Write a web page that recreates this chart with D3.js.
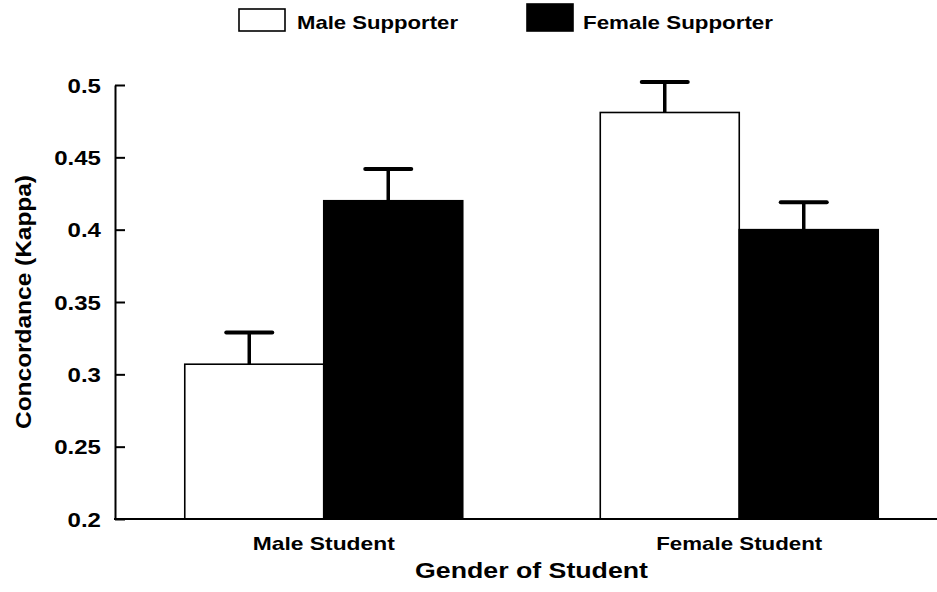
<!DOCTYPE html>
<html>
<head>
<meta charset="utf-8">
<script src="https://cdn.jsdelivr.net/npm/d3@7"></script>
<style>
  html, body { margin: 0; padding: 0; background: #fff; }
  svg text { font-family: "Liberation Sans", Arial, Helvetica, sans-serif; font-weight: bold; fill: #000; }
</style>
</head>
<body>
<svg id="chart" width="937" height="592"></svg>
<script>
// ---- data ----
const categories = ["Male Student", "Female Student"];
const seriesNames = ["Male Supporter", "Female Supporter"];
const maleSupporter = [0.307, 0.481];
const femaleSupporter = [0.420, 0.400];
const maleSupporterErr = [0.022, 0.021];
const femaleSupporterErr = [0.022, 0.019];
const yTicks = [0.2, 0.25, 0.3, 0.35, 0.4, 0.45, 0.5];
const yTickLabels = ["0.2", "0.25", "0.3", "0.35", "0.4", "0.45", "0.5"];
const xTitle = "Gender of Student";
const yTitle = "Concordance (Kappa)";

const seriesValues = [maleSupporter, femaleSupporter];
const seriesErrs = [maleSupporterErr, femaleSupporterErr];
const seriesFill = ["#ffffff", "#000000"];

const svg = d3.select("#chart");

const y = d3.scaleLinear().domain([0.2, 0.5]).range([519, 85]);
const x0 = d3.scaleBand().domain(categories).range([116, 947])
  .paddingInner(0.331).paddingOuter(0.1655);
const x1 = d3.scaleBand().domain(seriesNames).range([0, x0.bandwidth()]).padding(0);

const axisX = 115;

// bars
const data = [];
categories.forEach((c, i) => {
  seriesNames.forEach((s, j) => {
    data.push({cat: c, series: s, j: j, value: seriesValues[j][i], err: seriesErrs[j][i]});
  });
});

const barG = svg.append("g");
barG.selectAll("rect.bar").data(data).enter().append("rect")
  .attr("class", "bar")
  .attr("x", d => x0(d.cat) + x1(d.series))
  .attr("y", d => y(d.value))
  .attr("width", x1.bandwidth())
  .attr("height", d => y(0.2) - y(d.value))
  .attr("fill", d => seriesFill[d.j])
  .attr("stroke", "#000")
  .attr("stroke-width", 1.6);

// error bars (upper only)
const errOffset = -5;
const capHalf = 23;
const errG = svg.append("g");
data.forEach(d => {
  const cx = x0(d.cat) + x1(d.series) + x1.bandwidth() / 2 + errOffset;
  errG.append("line")
    .attr("x1", cx).attr("x2", cx)
    .attr("y1", y(d.value)).attr("y2", y(d.value + d.err))
    .attr("stroke", "#000").attr("stroke-width", 3.5);
  errG.append("line")
    .attr("x1", cx - capHalf).attr("x2", cx + capHalf)
    .attr("y1", y(d.value + d.err)).attr("y2", y(d.value + d.err))
    .attr("stroke", "#000").attr("stroke-width", 4)
    .attr("stroke-linecap", "round");
});

// y axis
const yAxis = d3.axisLeft(y)
  .tickValues(yTicks)
  .tickFormat((d, i) => yTickLabels[i])
  .tickSizeInner(-10)
  .tickSizeOuter(0)
  .tickPadding(11.7);
const yg = svg.append("g").attr("transform", `translate(${axisX},0)`).call(yAxis);
yg.select(".domain").attr("stroke", "#000").attr("stroke-width", 2);
yg.selectAll(".tick line").attr("stroke", "#000").attr("stroke-width", 2);
yg.selectAll(".tick text")
  .attr("font-size", 20)
  .attr("dy", "0.36em")
  .attr("transform", "scale(1.2,1)")
  .style("font-family", "'Liberation Sans', Arial, sans-serif")
  .style("font-weight", "bold");

// x baseline
svg.append("line")
  .attr("x1", axisX - 1).attr("x2", 937)
  .attr("y1", y(0.2)).attr("y2", y(0.2))
  .attr("stroke", "#000").attr("stroke-width", 2);

// category labels
const catLen = [142, 166];
svg.selectAll("text.cat").data(categories).enter().append("text")
  .attr("class", "cat")
  .attr("x", d => x0(d) + x0.bandwidth() / 2)
  .attr("y", 550)
  .attr("text-anchor", "middle")
  .attr("font-size", 18.5)
  .attr("textLength", (d, i) => catLen[i])
  .attr("lengthAdjust", "spacingAndGlyphs")
  .text(d => d);

// x title
svg.append("text")
  .attr("x", (x0(categories[0]) + x0(categories[1]) + x0.bandwidth()) / 2)
  .attr("y", 578)
  .attr("text-anchor", "middle")
  .attr("font-size", 22.5)
  .attr("textLength", 233)
  .attr("lengthAdjust", "spacingAndGlyphs")
  .text(xTitle);

// y title
svg.append("text")
  .attr("transform", `translate(31,${(y(0.2) + y(0.5)) / 2}) rotate(-90)`)
  .attr("text-anchor", "middle")
  .attr("font-size", 22)
  .attr("textLength", 254)
  .attr("lengthAdjust", "spacingAndGlyphs")
  .text(yTitle);

// legend
const legendItems = [
  {name: seriesNames[0], fill: seriesFill[0], bx: 239, by: 9, bw: 46, bh: 22, tx: 297, tl: 161},
  {name: seriesNames[1], fill: seriesFill[1], bx: 527, by: 4, bw: 46, bh: 27, tx: 583, tl: 190}
];
const lg = svg.append("g");
legendItems.forEach(it => {
  lg.append("rect")
    .attr("x", it.bx).attr("y", it.by)
    .attr("width", it.bw).attr("height", it.bh)
    .attr("fill", it.fill).attr("stroke", "#000").attr("stroke-width", 1.6);
  lg.append("text")
    .attr("x", it.tx).attr("y", 28.5)
    .attr("font-size", 18.5)
    .attr("textLength", it.tl)
    .attr("lengthAdjust", "spacingAndGlyphs")
    .text(it.name);
});
</script>
</body>
</html>
